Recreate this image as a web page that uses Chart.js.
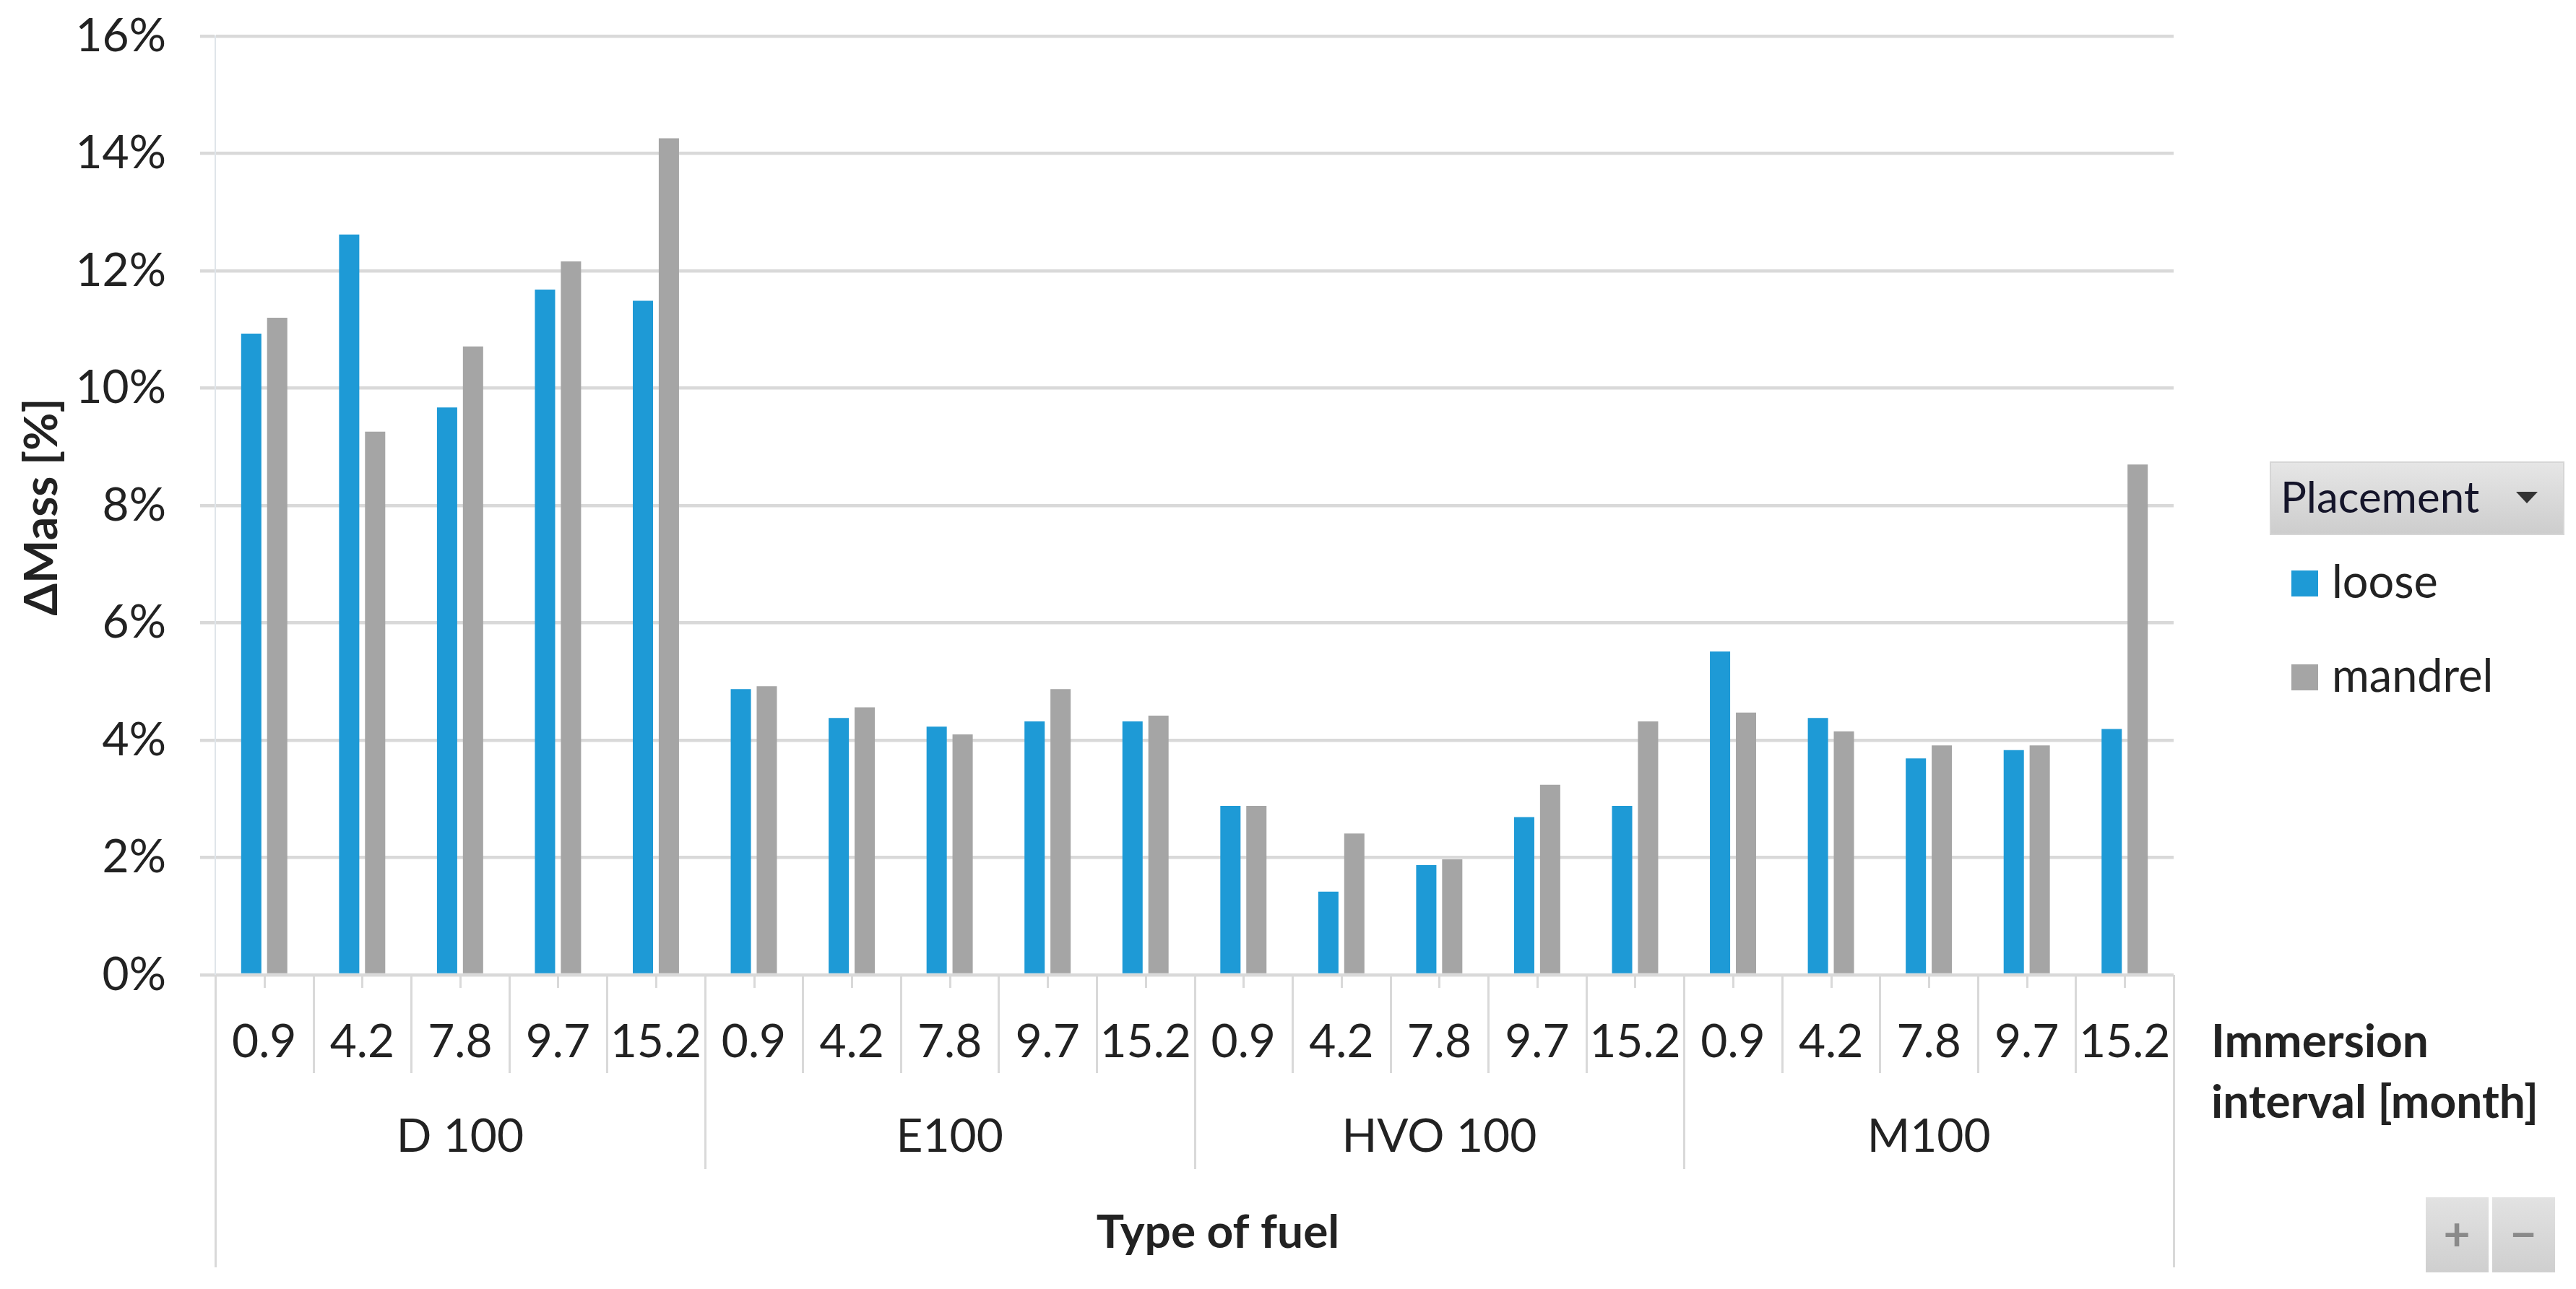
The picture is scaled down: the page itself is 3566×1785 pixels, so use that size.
<!DOCTYPE html>
<html>
<head>
<meta charset="utf-8">
<script src="https://cdn.jsdelivr.net/npm/chart.js@4.4.1/dist/chart.umd.min.js"></script>
<style>
html, body { margin: 0; padding: 0; background: #fff; }
#wrap { width: 3566px; height: 1785px; position: relative; }
</style>
</head>
<body>
<div id="wrap"><canvas id="massChart"></canvas></div>
<script>
// data (percent)
const fuels = ['D 100', 'E100', 'HVO 100', 'M100'];
const intervals = ['0.9', '4.2', '7.8', '9.7', '15.2'];
const looseVals = [10.93, 12.62, 9.67, 11.68, 11.49,  4.87, 4.38, 4.23, 4.32, 4.32,  2.88, 1.42, 1.87, 2.69, 2.88,  5.51, 4.38, 3.69, 3.83, 4.19];
const mandrelVals = [11.20, 9.26, 10.71, 12.16, 14.26,  4.92, 4.56, 4.10, 4.87, 4.42,  2.88, 2.41, 1.97, 3.24, 4.32,  4.47, 4.15, 3.91, 3.91, 8.70];
const yMax = 16;
const yStep = 2;

const labels = [];
fuels.forEach(f => intervals.forEach(t => labels.push([f, t])));

const FONT = 'Lato';
const TXT = '#222';

/* ===== multi-level category axis, titles, legend ===== */
const fuelAxisPlugin = {
  id: 'fuelAxis',
  afterDraw(chart) {
    const x = chart.scales.x;
    const ctx = chart.ctx;
    const base = chart.chartArea.bottom;
    const n = chart.data.labels.length;
    const step = (x.right - x.left) / n;
    const per = intervals.length;

    ctx.save();
    ctx.strokeStyle = '#d9d9d9';
    ctx.lineWidth = 3;
    for (let i = 0; i <= n; i++) {
      const px = Math.round(x.left + i * step) + 0.5;
      let len = 136;
      if (i === 0 || i === n) len = 405;
      else if (i % per === 0) len = 269;
      ctx.beginPath();
      ctx.moveTo(px, base);
      ctx.lineTo(px, base + len);
      ctx.stroke();
    }
    for (let i = 0; i < n; i++) {
      const px = Math.round(x.getPixelForValue(i)) + 0.5;
      ctx.beginPath();
      ctx.moveTo(px, base);
      ctx.lineTo(px, base + 18);
      ctx.stroke();
    }

    ctx.fillStyle = TXT;
    ctx.textAlign = 'center';
    ctx.textBaseline = 'middle';
    ctx.font = `64px ${FONT}`;
    for (let i = 0; i < n; i++) {
      ctx.fillText(chart.data.labels[i][1], x.getPixelForValue(i), base + 93);
    }
    for (let g = 0; g < fuels.length; g++) {
      const cx = x.left + (g * per + per / 2) * step;
      ctx.fillText(fuels[g], cx, base + 224);
    }

    ctx.font = `bold 64px ${FONT}`;
    ctx.fillText('Type of fuel', 1686, base + 357);
    ctx.textAlign = 'left';
    ctx.fillText('Immersion', 3061, 1443);
    ctx.fillText('interval [month]', 3061, 1527);

    // y title
    ctx.save();
    ctx.translate(58, 702);
    ctx.rotate(-Math.PI / 2);
    ctx.textAlign = 'center';
    ctx.fillText('\u0394Mass [%]', 0, 0);
    ctx.restore();

    // legend field button
    const bx = 3143, by = 640, bw = 406, bh = 100;
    const grd = ctx.createLinearGradient(0, by, 0, by + bh);
    grd.addColorStop(0, '#e6e6e6');
    grd.addColorStop(1, '#cdcdcd');
    ctx.fillStyle = grd;
    ctx.fillRect(bx, by, bw, bh);
    ctx.strokeStyle = '#d6d6d6';
    ctx.lineWidth = 2;
    ctx.strokeRect(bx, by, bw, bh);
    ctx.fillStyle = '#15152a';
    ctx.font = `60px ${FONT}`;
    ctx.textAlign = 'left';
    ctx.fillText('Placement', 3157, 691);
    ctx.fillStyle = '#333';
    ctx.beginPath();
    ctx.moveTo(3483, 681);
    ctx.lineTo(3513, 681);
    ctx.lineTo(3498, 697);
    ctx.closePath();
    ctx.fill();

    // legend entries
    const rows = [808, 938];
    chart.data.datasets.forEach((ds, i) => {
      ctx.fillStyle = ds.backgroundColor;
      ctx.fillRect(3172, rows[i] - 18, 37, 36);
      ctx.fillStyle = TXT;
      ctx.font = `63px ${FONT}`;
      ctx.fillText(ds.label, 3228, rows[i]);
    });

    // +/- buttons
    [[3358, '+'], [3450, '\u2212']].forEach(([px, s]) => {
      const g2 = ctx.createLinearGradient(0, 1658, 0, 1762);
      g2.addColorStop(0, '#e2e2e2');
      g2.addColorStop(1, '#cfcfcf');
      ctx.fillStyle = g2;
      ctx.fillRect(px, 1658, 87, 104);
      ctx.fillStyle = '#8a8a8a';
      ctx.font = `bold 64px ${FONT}`;
      ctx.textAlign = 'center';
      ctx.fillText(s, px + 43, 1710);
    });
    ctx.restore();
  }
};

new Chart(document.getElementById('massChart'), {
  type: 'bar',
  data: {
    labels: labels,
    datasets: [
      { label: 'loose', data: looseVals, backgroundColor: '#1e9ad6' },
      { label: 'mandrel', data: mandrelVals, backgroundColor: '#a5a5a5' }
    ]
  },
  options: {
    responsive: true,
    maintainAspectRatio: false,
    devicePixelRatio: 1,
    animation: false,
    categoryPercentage: 0.53,
    barPercentage: 0.78,
    layout: { padding: { left: 0, right: 557, top: 50, bottom: 0 } },
    scales: {
      x: {
        ticks: { display: false },
        grid: { display: false },
        border: { display: false },
        afterFit(scale) { scale.height = 1785 - 1350; }
      },
      y: {
        min: 0,
        max: yMax,
        ticks: {
          stepSize: yStep,
          padding: 47,
          color: TXT,
          font: { family: FONT, size: 64 },
          callback: v => v + '%'
        },
        grid: { color: '#d9d9d9', lineWidth: 4.5, tickLength: 21 },
        border: { color: '#dfe5ea', width: 2 },
        afterFit(scale) {
          scale.width = 298;
          scale.paddingTop = 0;
          scale.paddingBottom = 0;
        }
      }
    },
    plugins: {
      legend: { display: false },
      tooltip: { enabled: false }
    }
  },
  plugins: [fuelAxisPlugin]
});
</script>
</body>
</html>
